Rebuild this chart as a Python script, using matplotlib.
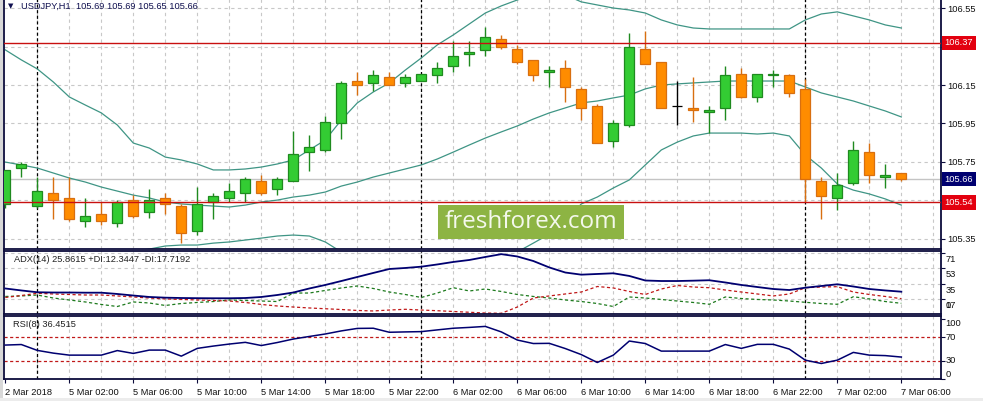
# plot.py
# USDJPY H1 chart with Bollinger bands, ADX and RSI panels (MT4 style)
import numpy as np
import matplotlib
matplotlib.use("Agg")
import matplotlib.pyplot as plt
from matplotlib.patches import Rectangle

W, H = 983, 401

opens = [105.53, 105.72, 105.52, 105.59, 105.56, 105.44, 105.48, 105.43, 105.55, 105.49,
         105.56, 105.52, 105.39, 105.54, 105.56, 105.59, 105.65, 105.61, 105.65, 105.80,
         105.81, 105.95, 106.17, 106.16, 106.19, 106.16, 106.17, 106.20, 106.25, 106.31,
         106.33, 106.39, 106.34, 106.28, 106.22, 106.24, 106.13, 106.04, 105.86, 105.94,
         106.34, 106.27, 106.04, 106.03, 106.01, 106.03, 106.21, 106.09, 106.20, 106.20,
         106.13, 105.65, 105.56, 105.64, 105.80, 105.67, 105.69]
highs = [105.71, 105.75, 105.67, 105.67, 105.67, 105.56, 105.54, 105.55, 105.58, 105.61,
         105.59, 105.53, 105.62, 105.59, 105.64, 105.67, 105.68, 105.67, 105.91, 105.89,
         105.99, 106.17, 106.22, 106.23, 106.22, 106.21, 106.21, 106.27, 106.38, 106.38,
         106.45, 106.41, 106.36, 106.28, 106.25, 106.28, 106.14, 106.05, 105.97, 106.42,
         106.43, 106.27, 106.17, 106.19, 106.04, 106.25, 106.24, 106.21, 106.23, 106.21,
         106.18, 105.67, 105.69, 105.86, 105.85, 105.74, 105.69]
lows = [105.51, 105.67, 105.51, 105.45, 105.44, 105.41, 105.42, 105.41, 105.46, 105.46,
        105.48, 105.33, 105.37, 105.45, 105.54, 105.54, 105.58, 105.58, 105.65, 105.70,
        105.80, 105.87, 106.10, 106.12, 106.15, 106.14, 106.17, 106.16, 106.22, 106.25,
        106.30, 106.34, 106.26, 106.17, 106.14, 106.06, 105.97, 105.85, 105.83, 105.93,
        106.26, 106.03, 105.94, 105.96, 105.90, 105.97, 106.08, 106.06, 106.14, 106.09,
        105.54, 105.45, 105.50, 105.63, 105.64, 105.615, 105.65]
closes = [105.71, 105.74, 105.60, 105.55, 105.45, 105.47, 105.44, 105.54, 105.47, 105.55,
          105.53, 105.38, 105.53, 105.57, 105.60, 105.66, 105.59, 105.66, 105.79, 105.83,
          105.96, 106.16, 106.15, 106.20, 106.15, 106.19, 106.21, 106.24, 106.30, 106.32,
          106.40, 106.35, 106.27, 106.20, 106.23, 106.14, 106.03, 105.85, 105.95, 106.35,
          106.26, 106.03, 106.04, 106.02, 106.02, 106.20, 106.09, 106.21, 106.21, 106.11,
          105.66, 105.57, 105.63, 105.81, 105.68, 105.68, 105.66]

bb_upper = [106.333, 106.281, 106.234, 106.166, 106.088, 106.046, 106.005, 105.942, 105.848, 105.822,
            105.775, 105.760, 105.739, 105.708, 105.708, 105.713, 105.723, 105.739, 105.760, 105.812,
            105.864, 105.968, 106.057, 106.114, 106.161, 106.228, 106.291, 106.359, 106.411, 106.468,
            106.525, 106.562, 106.593, 106.619, 106.635, 106.619, 106.583, 106.567, 106.551, 106.541,
            106.525, 106.489, 106.463, 106.447, 106.442, 106.442, 106.442, 106.442, 106.442, 106.442,
            106.489, 106.520, 106.531, 106.510, 106.489, 106.463, 106.447]
bb_mid = [105.749, 105.734, 105.718, 105.692, 105.666, 105.645, 105.619, 105.598, 105.577, 105.562,
          105.541, 105.531, 105.525, 105.520, 105.515, 105.525, 105.541, 105.551, 105.567, 105.577,
          105.593, 105.624, 105.645, 105.671, 105.692, 105.713, 105.734, 105.765, 105.801, 105.838,
          105.874, 105.906, 105.937, 105.973, 106.005, 106.031, 106.057, 106.067, 106.083, 106.098,
          106.130, 106.150, 106.156, 106.161, 106.166, 106.171, 106.171, 106.171, 106.171, 106.171,
          106.140, 106.109, 106.088, 106.067, 106.041, 106.015, 105.984]
bb_lower = [105.166, 105.187, 105.202, 105.218, 105.244, 105.244, 105.234, 105.255, 105.286, 105.296,
            105.312, 105.317, 105.317, 105.327, 105.333, 105.343, 105.353, 105.364, 105.369, 105.364,
            105.333, 105.281, 105.234, 105.228, 105.223, 105.197, 105.176, 105.171, 105.192, 105.208,
            105.223, 105.249, 105.281, 105.327, 105.374, 105.442, 105.531, 105.567, 105.614, 105.656,
            105.734, 105.812, 105.853, 105.885, 105.900, 105.900, 105.900, 105.895, 105.900, 105.885,
            105.786, 105.718, 105.635, 105.603, 105.583, 105.557, 105.525]

adx = [29.6, 27.3, 25.2, 24.9, 24.9, 24.7, 24.7, 23.2, 21.4, 19.7,
       18.9, 18.5, 18.3, 18.2, 18.2, 18.5, 19.7, 22.0, 24.9, 29.6,
       33.7, 38.3, 43.0, 47.7, 52.3, 53.5, 55.0, 57.6, 60.5, 62.8,
       66.3, 69.6, 66.9, 61.6, 54.1, 48.2, 45.7, 46.5, 47.3, 44.2,
       38.9, 38.3, 38.3, 38.7, 39.2, 36.6, 33.7, 31.3, 29.0, 27.8,
       30.5, 32.5, 34.5, 31.9, 29.0, 27.3, 25.86]
plus_di = [20.3, 20.9, 22.0, 18.5, 16.2, 13.9, 11.0, 8.6, 13.9, 12.7,
           9.8, 12.1, 13.3, 14.4, 16.2, 15.6, 15.0, 14.4, 24.3, 24.3,
           27.3, 30.2, 32.5, 29.6, 25.5, 22.6, 19.1, 24.3, 30.5, 26.7,
           29.0, 26.1, 22.6, 20.3, 18.5, 16.2, 14.4, 12.1, 8.6, 19.7,
           18.5, 16.8, 15.0, 13.3, 11.2, 19.7, 17.9, 16.8, 16.2, 15.0,
           13.5, 12.1, 11.2, 20.0, 17.4, 14.4, 12.34]
minus_di = [19.1, 21.4, 24.0, 23.2, 22.6, 22.0, 22.0, 20.9, 19.7, 18.5,
            17.4, 16.8, 16.2, 15.6, 15.0, 13.3, 11.0, 9.2, 8.0, 6.9,
            6.0, 5.1, 4.0, 3.4, 4.5, 5.35, 4.5, 3.7, 2.8, 1.9,
            1.0, 0.7, 8.0, 18.5, 20.9, 23.2, 25.5, 31.9, 30.2, 26.1,
            22.6, 29.0, 33.1, 31.3, 30.5, 27.8, 25.5, 23.2, 20.9, 23.2,
            30.5, 31.3, 31.7, 25.5, 22.6, 20.3, 17.72]
rsi = [56.7, 57.6, 47.7, 43.1, 39.7, 39.7, 39.7, 47.4, 42.6, 48.2,
       48.2, 38.0, 51.1, 55.0, 58.4, 61.3, 55.9, 61.0, 66.9, 71.2,
       75.4, 80.6, 84.8, 85.1, 78.3, 78.9, 79.4, 82.3, 85.1, 86.5,
       88.2, 78.9, 65.2, 59.3, 59.6, 50.8, 40.6, 27.3, 39.7, 63.5,
       59.3, 46.5, 46.5, 46.5, 46.5, 57.6, 51.1, 57.9, 57.9, 49.9,
       31.2, 25.6, 31.2, 44.3, 39.7, 38.9, 36.45]

x_labels = ["2 Mar 2018", "5 Mar 02:00", "5 Mar 06:00", "5 Mar 10:00", "5 Mar 14:00",
            "5 Mar 18:00", "5 Mar 22:00", "6 Mar 02:00", "6 Mar 06:00", "6 Mar 10:00",
            "6 Mar 14:00", "6 Mar 18:00", "6 Mar 22:00", "7 Mar 02:00", "7 Mar 06:00"]
x_label_pos = list(range(0, 57, 4))
day_breaks = [2, 26, 50]
price_ticks = [105.35, 105.55, 105.75, 105.95, 106.15, 106.35, 106.55]
red_levels = [106.37, 105.54]
last_price = 105.66
adx_ticks = [71, 53, 35, 17]
rsi_ticks = [100, 70, 30, 0]
rsi_levels = [70, 30]
title = "USDJPY,H1  105.69 105.69 105.65 105.66"
adx_title = "ADX(14) 25.8615 +DI:12.3447 -DI:17.7192"
rsi_title = "RSI(8) 36.4515"

FONT = "Liberation Sans"
FS = 6.7
FRAME = "#0c0c3c"
GRID = "#c8c8c8"
BULL, BULL_EDGE = "#33cc33", "#1f8a1f"
BEAR, BEAR_EDGE = "#ff8c00", "#d86f10"
BANDS = "#3f9585"
XLIM = (-0.0625, 58.48)


def px_rect(x0, y0, x1, y1):
    return [x0 / W, 1 - y1 / H, (x1 - x0) / W, (y1 - y0) / H]


def style_panel(ax, hide_top=False):
    ax.set_xlim(*XLIM)
    for side, sp in ax.spines.items():
        sp.set_color(FRAME)
        sp.set_linewidth(1.3)
    if hide_top:
        ax.spines["top"].set_visible(False)
    ax.set_xticks([])
    ax.yaxis.set_ticks_position("right")
    ax.tick_params(axis="y", direction="out", length=3, width=0.8, color=FRAME,
                   pad=1.2, labelsize=FS, labelcolor="#111111")
    for k in range(2, 59, 2):
        ax.axvline(k, color=GRID, lw=0.8, ls=(0, (3, 3)), zorder=0)
    for k in day_breaks:
        ax.axvline(k, color="black", lw=0.9, ls=(0, (2.5, 2)), zorder=1)


def draw_candles(ax):
    for i in range(len(opens)):
        o, c = opens[i], closes[i]
        if c > o:
            face, edge = BULL, BULL_EDGE
        elif c < o:
            face, edge = BEAR, BEAR_EDGE
        else:
            face, edge = "black", "black"
        ax.vlines(i, lows[i], highs[i], color=edge, lw=1.0, zorder=3)
        ax.bar(i, max(abs(c - o), 0.0005), bottom=min(o, c), width=0.62,
               color=face, edgecolor=edge, lw=0.9, zorder=4)


def price_box(ax, value, color):
    ax.annotate(f"{value:.2f}", xy=(1, value), xycoords=("axes fraction", "data"),
                xytext=(2.6, 0), textcoords="offset points", va="center", ha="left",
                fontsize=FS, color="white", annotation_clip=False, zorder=20,
                bbox=dict(boxstyle="square,pad=0.3", fc=color, ec="none"))


fig = plt.figure(figsize=(W / 100, H / 100), dpi=100)
fig.patch.set_facecolor("white")
plt.rcParams["font.family"] = [FONT, "DejaVu Sans"]

# main price panel
ax = fig.add_axes(px_rect(4.3, -1, 941, 248.5))
style_panel(ax, hide_top=True)
ax.set_ylim(105.299, 106.598)
for p in price_ticks:
    ax.axhline(p, color=GRID, lw=0.8, ls=(0, (3, 3)), zorder=0)
ax.axhline(last_price, color="#c4c4c4", lw=1.0, zorder=1)
ax.set_yticks(price_ticks)
ax.set_yticklabels([f"{p:.2f}" for p in price_ticks])

x = np.arange(len(bb_mid))
for band in (bb_upper, bb_mid, bb_lower):
    ax.plot(x, band, color=BANDS, lw=0.9, zorder=2)
draw_candles(ax)

for lv in red_levels:
    ax.axhline(lv, color="#c81010", lw=1.0, zorder=5)
    price_box(ax, lv, "#e3000f")
price_box(ax, last_price, "#000070")

fig.text(11 / W, 1 - 6.5 / H, "\u25bc", fontsize=5, color="#101050",
         family="DejaVu Sans", ha="center", va="center")
fig.text(21 / W, 1 - 6.5 / H, title, fontsize=FS, color="#101050", va="center")

# watermark
fig.patches.append(Rectangle((438 / W, 1 - 239 / H), 186 / W, 34 / H,
                             transform=fig.transFigure, fc="#8db443", ec="none", zorder=10))
fig.text(531 / W, 1 - 222 / H, "freshforex.com", family="Open Sans", fontsize=17.5,
         color="#f4f8ec", ha="center", va="center", zorder=11)

# ADX panel
ax2 = fig.add_axes(px_rect(4.3, 250.8, 941, 314))
style_panel(ax2)
ax2.set_ylim(-0.13, 73.5)
for lv in adx_ticks:
    ax2.axhline(lv, color=GRID, lw=0.8, ls=(0, (3, 3)), zorder=0)
ax2.plot(x, adx, color="#000070", lw=1.3, zorder=3)
ax2.plot(x, plus_di, color="#1d7a1d", lw=0.9, ls=(0, (2.5, 2)), zorder=2)
ax2.plot(x, minus_di, color="#c01818", lw=0.9, ls=(0, (2.5, 2)), zorder=2)
ax2.set_yticks(adx_ticks)
ax2.set_yticklabels([])
for lv in adx_ticks + [0]:
    ypos = lv if lv > 0 else 17
    ax2.annotate(str(lv), xy=(1, ypos), xycoords=("axes fraction", "data"),
                 xytext=(3.4, -1.5), textcoords="offset points", va="top", ha="left",
                 fontsize=FS, color="#111111", annotation_clip=False)
ax2.text(10 / 936.7, 0.86, adx_title, transform=ax2.transAxes, fontsize=FS,
         color="#222222", va="center", ha="left")

# RSI panel
ax3 = fig.add_axes(px_rect(4.3, 315.8, 941, 379.3))
style_panel(ax3)
ax3.set_ylim(-1.1, 106.1)
ax3.plot(x, rsi, color="#000070", lw=1.1, zorder=3)
for lv in rsi_levels:
    ax3.axhline(lv, color="#c01818", lw=0.9, ls=(0, (2.5, 2)), zorder=2)
ax3.set_yticks(rsi_ticks)
ax3.set_yticklabels([])
for lv in rsi_ticks:
    va = "top" if lv == 100 else ("bottom" if lv == 0 else "center")
    ax3.annotate(str(lv), xy=(1, lv), xycoords=("axes fraction", "data"),
                 xytext=(3.4, 0), textcoords="offset points", va=va, ha="left",
                 fontsize=FS, color="#111111", annotation_clip=False)
ax3.text(9 / 936.7, 0.86, rsi_title, transform=ax3.transAxes, fontsize=FS,
         color="#222222", va="center", ha="left")
ax3.set_xticks(x_label_pos)
ax3.set_xticklabels(x_labels, ha="left")
ax3.tick_params(axis="x", direction="out", length=3, width=0.8, color=FRAME,
                pad=3, labelsize=FS, labelcolor="#111111")

# window frame strips
fig.patches.append(Rectangle((0, 0), 2.5 / W, 1, transform=fig.transFigure,
                             fc="#d8d8d8", ec="none"))
fig.patches.append(Rectangle((0, 0), 1, 3.5 / H, transform=fig.transFigure,
                             fc="#ececec", ec="none"))

fig.savefig("out.png", dpi=100)
